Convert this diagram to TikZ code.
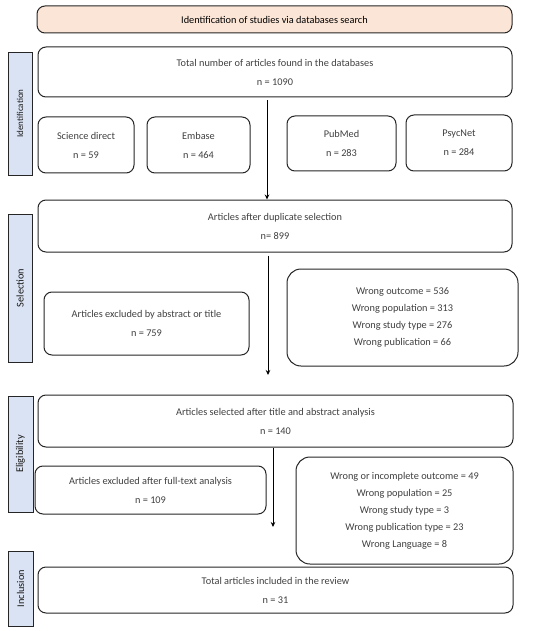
\documentclass[tikz,border=0pt]{standalone}
\usepackage{fontspec}
\setmainfont{Carlito}
\usetikzlibrary{arrows.meta}
\definecolor{peach}{HTML}{FBE5D6}
\definecolor{lblue}{HTML}{DAE3F3}
\definecolor{txt}{HTML}{404040}
\begin{document}
\begin{tikzpicture}[x=1pt,y=-1pt,
  box/.style={draw=black!85, line width=1pt, rounded corners=8pt, fill=white, align=center,
    inner sep=0pt, text=txt, font=\fontsize{10.3}{19}\selectfont},
  listbox/.style={box, rounded corners=14pt, font=\fontsize{10.3}{17}\selectfont},
  side/.style={draw=black!85, line width=0.9pt, fill=lblue, inner sep=0pt, rotate=90,
    text=black!90, font=\fontsize{10.3}{12}\selectfont},
  arr/.style={-{Stealth[length=5pt,width=4.5pt]}, line width=0.8pt, black}]
\useasboundingbox (0,0) rectangle (550,631);
% header
\node[box, fill=peach, text=black, minimum width=475, minimum height=27] (head) at (274.5,19.5)
  {Identification of studies via databases search};
% identification
\node[box, minimum width=474, minimum height=50] (total) at (275,72)
  {Total number of articles found in the databases\\n = 1090};
\node[box, minimum width=96, minimum height=56] (sd) at (86,145) {Science direct\\n = 59};
\node[box, minimum width=103, minimum height=56] (emb) at (198.5,145) {Embase\\n = 464};
\node[box, minimum width=109, minimum height=55] (pub) at (341.5,143.5) {PubMed\\n = 283};
\node[box, minimum width=106, minimum height=56] (psy) at (459,143) {PsycNet\\n = 284};
% selection
\node[box, minimum width=474, minimum height=52] (dup) at (275,226)
  {Articles after duplicate selection\\n= 899};
\node[box, minimum width=205, minimum height=63] (exA) at (146.5,323.5)
  {Articles excluded by abstract or title\\n = 759};
\node[listbox, minimum width=231, minimum height=97] (wr1) at (402.5,317.5)
  {Wrong outcome = 536\\Wrong population = 313\\Wrong study type = 276\\Wrong publication = 66};
% eligibility
\node[box, minimum width=475, minimum height=52] (sel) at (275.5,421)
  {Articles selected after title and abstract analysis\\n = 140};
\node[box, minimum width=231, minimum height=48] (exF) at (150.5,490)
  {Articles excluded after full-text analysis\\n = 109};
\node[listbox, minimum width=217, minimum height=107] (wr2) at (404.5,510.5)
  {Wrong or incomplete outcome = 49\\Wrong population = 25\\Wrong study type = 3\\Wrong publication type = 23\\Wrong Language = 8};
% inclusion
\node[box, minimum width=475, minimum height=46] (inc) at (275.5,590)
  {Total articles included in the review\\n = 31};
% side labels
\node[side, minimum width=123, minimum height=24, font=\fontsize{9}{11}\selectfont] (l1) at (20,113.5) {Identification};
\node[side, minimum width=148, minimum height=24] (l2) at (20,288) {Selection};
\node[side, minimum width=116, minimum height=25] (l3) at (20.5,454) {Eligibility};
\node[side, minimum width=75, minimum height=25] (l4) at (20.5,588.5) {Inclusion};
% arrows
\coordinate (c1) at (267,0);
\draw[arr, shorten <=3pt] (c1 |- total.south) -- (c1 |- dup.north);
\coordinate (e2) at (268,375);
\draw[arr, shorten <=3pt] (e2 |- dup.south) -- (e2);
\coordinate (e3) at (273,527);
\draw[arr] (e3 |- sel.south) -- (e3);
\end{tikzpicture}
\end{document}
